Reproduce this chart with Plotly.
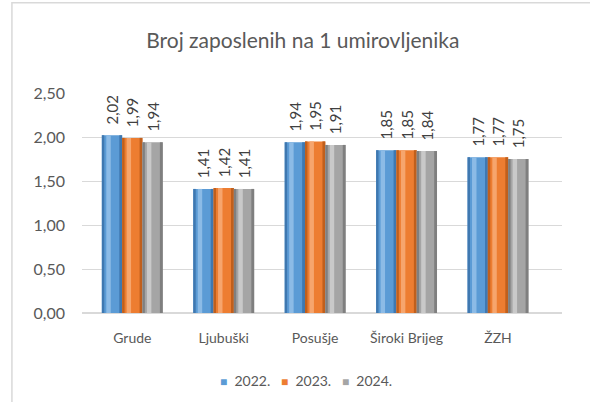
import plotly.graph_objects as go

# Data
categories = ["Grude", "Ljubuški", "Posušje", "Široki Brijeg", "ŽZH"]
years = ["2022.", "2023.", "2024."]
values_2022 = [2.02, 1.41, 1.94, 1.85, 1.77]
values_2023 = [1.99, 1.42, 1.95, 1.85, 1.77]
values_2024 = [1.94, 1.41, 1.91, 1.84, 1.75]
y_ticks = [0, 0.5, 1.0, 1.5, 2.0, 2.5]

series = [values_2022, values_2023, values_2024]
# (edge, body, highlight) tones for a cylinder-like look
palettes = [
    ("#3f78b0", "#5b9bd5", "#8cbbe6"),
    ("#c05f1c", "#ed7d31", "#f6a56d"),
    ("#7f7f7f", "#a5a5a5", "#c9c9c9"),
]

W = 0.222
offsets = [-0.333, -0.111, 0.111]
x_idx = list(range(len(categories)))

fig = go.Figure()
for name, vals, (edge, body, light), off in zip(years, series, palettes, offsets):
    # main cylinder body with its value label (lifted a little off the top)
    fig.add_trace(go.Bar(
        x=x_idx, y=vals, name=name, width=W, offset=off,
        marker=dict(color=body, line=dict(width=0)),
        text=["&nbsp;&nbsp;" + f"{v:.2f}".replace(".", ",") for v in vals],
        textposition="outside", textangle=-90, constraintext="none",
        textfont=dict(family="Lato, sans-serif", size=15, color="#404040"),
        cliponaxis=False, showlegend=False,
    ))
    # darker rims and a light highlight stripe
    fig.add_trace(go.Bar(
        x=x_idx, y=vals, width=W * 0.12, offset=off,
        marker=dict(color=edge, line=dict(width=0)),
        showlegend=False, hoverinfo="skip",
    ))
    fig.add_trace(go.Bar(
        x=x_idx, y=vals, width=W * 0.14, offset=off + W * 0.86,
        marker=dict(color=edge, line=dict(width=0)),
        showlegend=False, hoverinfo="skip",
    ))
    fig.add_trace(go.Bar(
        x=x_idx, y=vals, width=W * 0.22, offset=off + W * 0.22,
        marker=dict(color=light, line=dict(width=0)),
        showlegend=False, hoverinfo="skip",
    ))

# compact legend row
legend_text = "&nbsp;&nbsp;&nbsp;".join(
    f"<span style='color:{pal[1]};font-size:12px'>■</span>&nbsp;&nbsp;{yr}"
    for yr, pal in zip(years, palettes)
)

fig.update_layout(
    width=590, height=402,
    margin=dict(l=82, r=28, t=93, b=89),
    paper_bgcolor="white", plot_bgcolor="white",
    barmode="overlay",
    separators=",.",
    title=dict(
        text="Broj zaposlenih na 1 umirovljenika",
        x=0.46, xanchor="center", xref="paper", y=0.9, yanchor="middle",
        font=dict(family="Lato, sans-serif", size=21, color="#595959"),
    ),
    font=dict(family="Lato, sans-serif", color="#595959", size=14),
    xaxis=dict(
        range=[-0.55, 4.7], tickvals=x_idx, ticktext=categories,
        showgrid=False, zeroline=False, showline=False, ticks="",
        ticklabelstandoff=15,
        tickfont=dict(size=14, color="#595959"),
    ),
    yaxis=dict(
        range=[0, 2.5], tickvals=y_ticks, tickformat=".2f",
        showgrid=True, gridcolor="#d9d9d9", gridwidth=1,
        zeroline=True, zerolinecolor="#d9d9d9",
        showline=False, ticks="", ticklabelstandoff=16,
        tickfont=dict(size=16, color="#595959"),
    ),
    showlegend=False,
)

fig.add_annotation(
    text=legend_text, xref="paper", yref="paper", x=0.467, y=-0.309,
    xanchor="center", yanchor="middle", showarrow=False,
    font=dict(family="Lato, sans-serif", size=14, color="#595959"),
)

# outer chart frame
fig.add_shape(type="rect", xref="paper", yref="paper",
              x0=-0.146, x1=1.1, y0=-0.5, y1=1.41,
              line=dict(color="#d9d9d9", width=1.5), fillcolor="rgba(0,0,0,0)",
              layer="below")

fig.write_html("out.html")
